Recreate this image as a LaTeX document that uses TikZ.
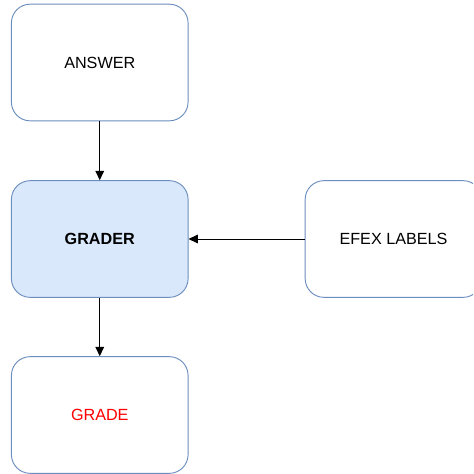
\documentclass[tikz,border=0pt]{standalone}
\usepackage{fontspec}
\setmainfont{Liberation Sans}
\usetikzlibrary{arrows.meta}
\definecolor{boxline}{HTML}{6C8EBF}
\definecolor{boxfill}{HTML}{DAE8FC}
\definecolor{gradered}{HTML}{FF0000}

\begin{document}
\begin{tikzpicture}[
  x=0.03cm, y=-0.03cm,
  >={Triangle[length=2.8mm, width=2.6mm]},
  every node/.style={font=\fontsize{13.8}{16}\selectfont, text=black},
  card/.style={draw=boxline, line width=0.8pt, rounded corners=16pt, fill=white,
    minimum width=5.3cm, minimum height=3.5cm, inner sep=0pt},
  flow/.style={->, line width=0.8pt, black},
]

% Page area
\clip (0,0) rectangle (473,474);

% Left column
\node[card] (answer) at (99.75,62.5) {ANSWER};
\node[card, fill=boxfill, font=\fontsize{13.8}{16}\selectfont\bfseries] (grader) at (99.75,239) {GRADER};
\node[card, text=gradered] (grade) at (99.75,415) {GRADE};

% Right side input (runs off the edge)
\node[card] (efex) at (393.5,239) {EFEX LABELS};

% Connectors
\draw[flow] (answer.south) -- (grader.north);
\draw[flow] (efex.west) -- (grader.east);
\draw[flow] (grader.south) -- (grade.north);

\end{tikzpicture}
\end{document}
